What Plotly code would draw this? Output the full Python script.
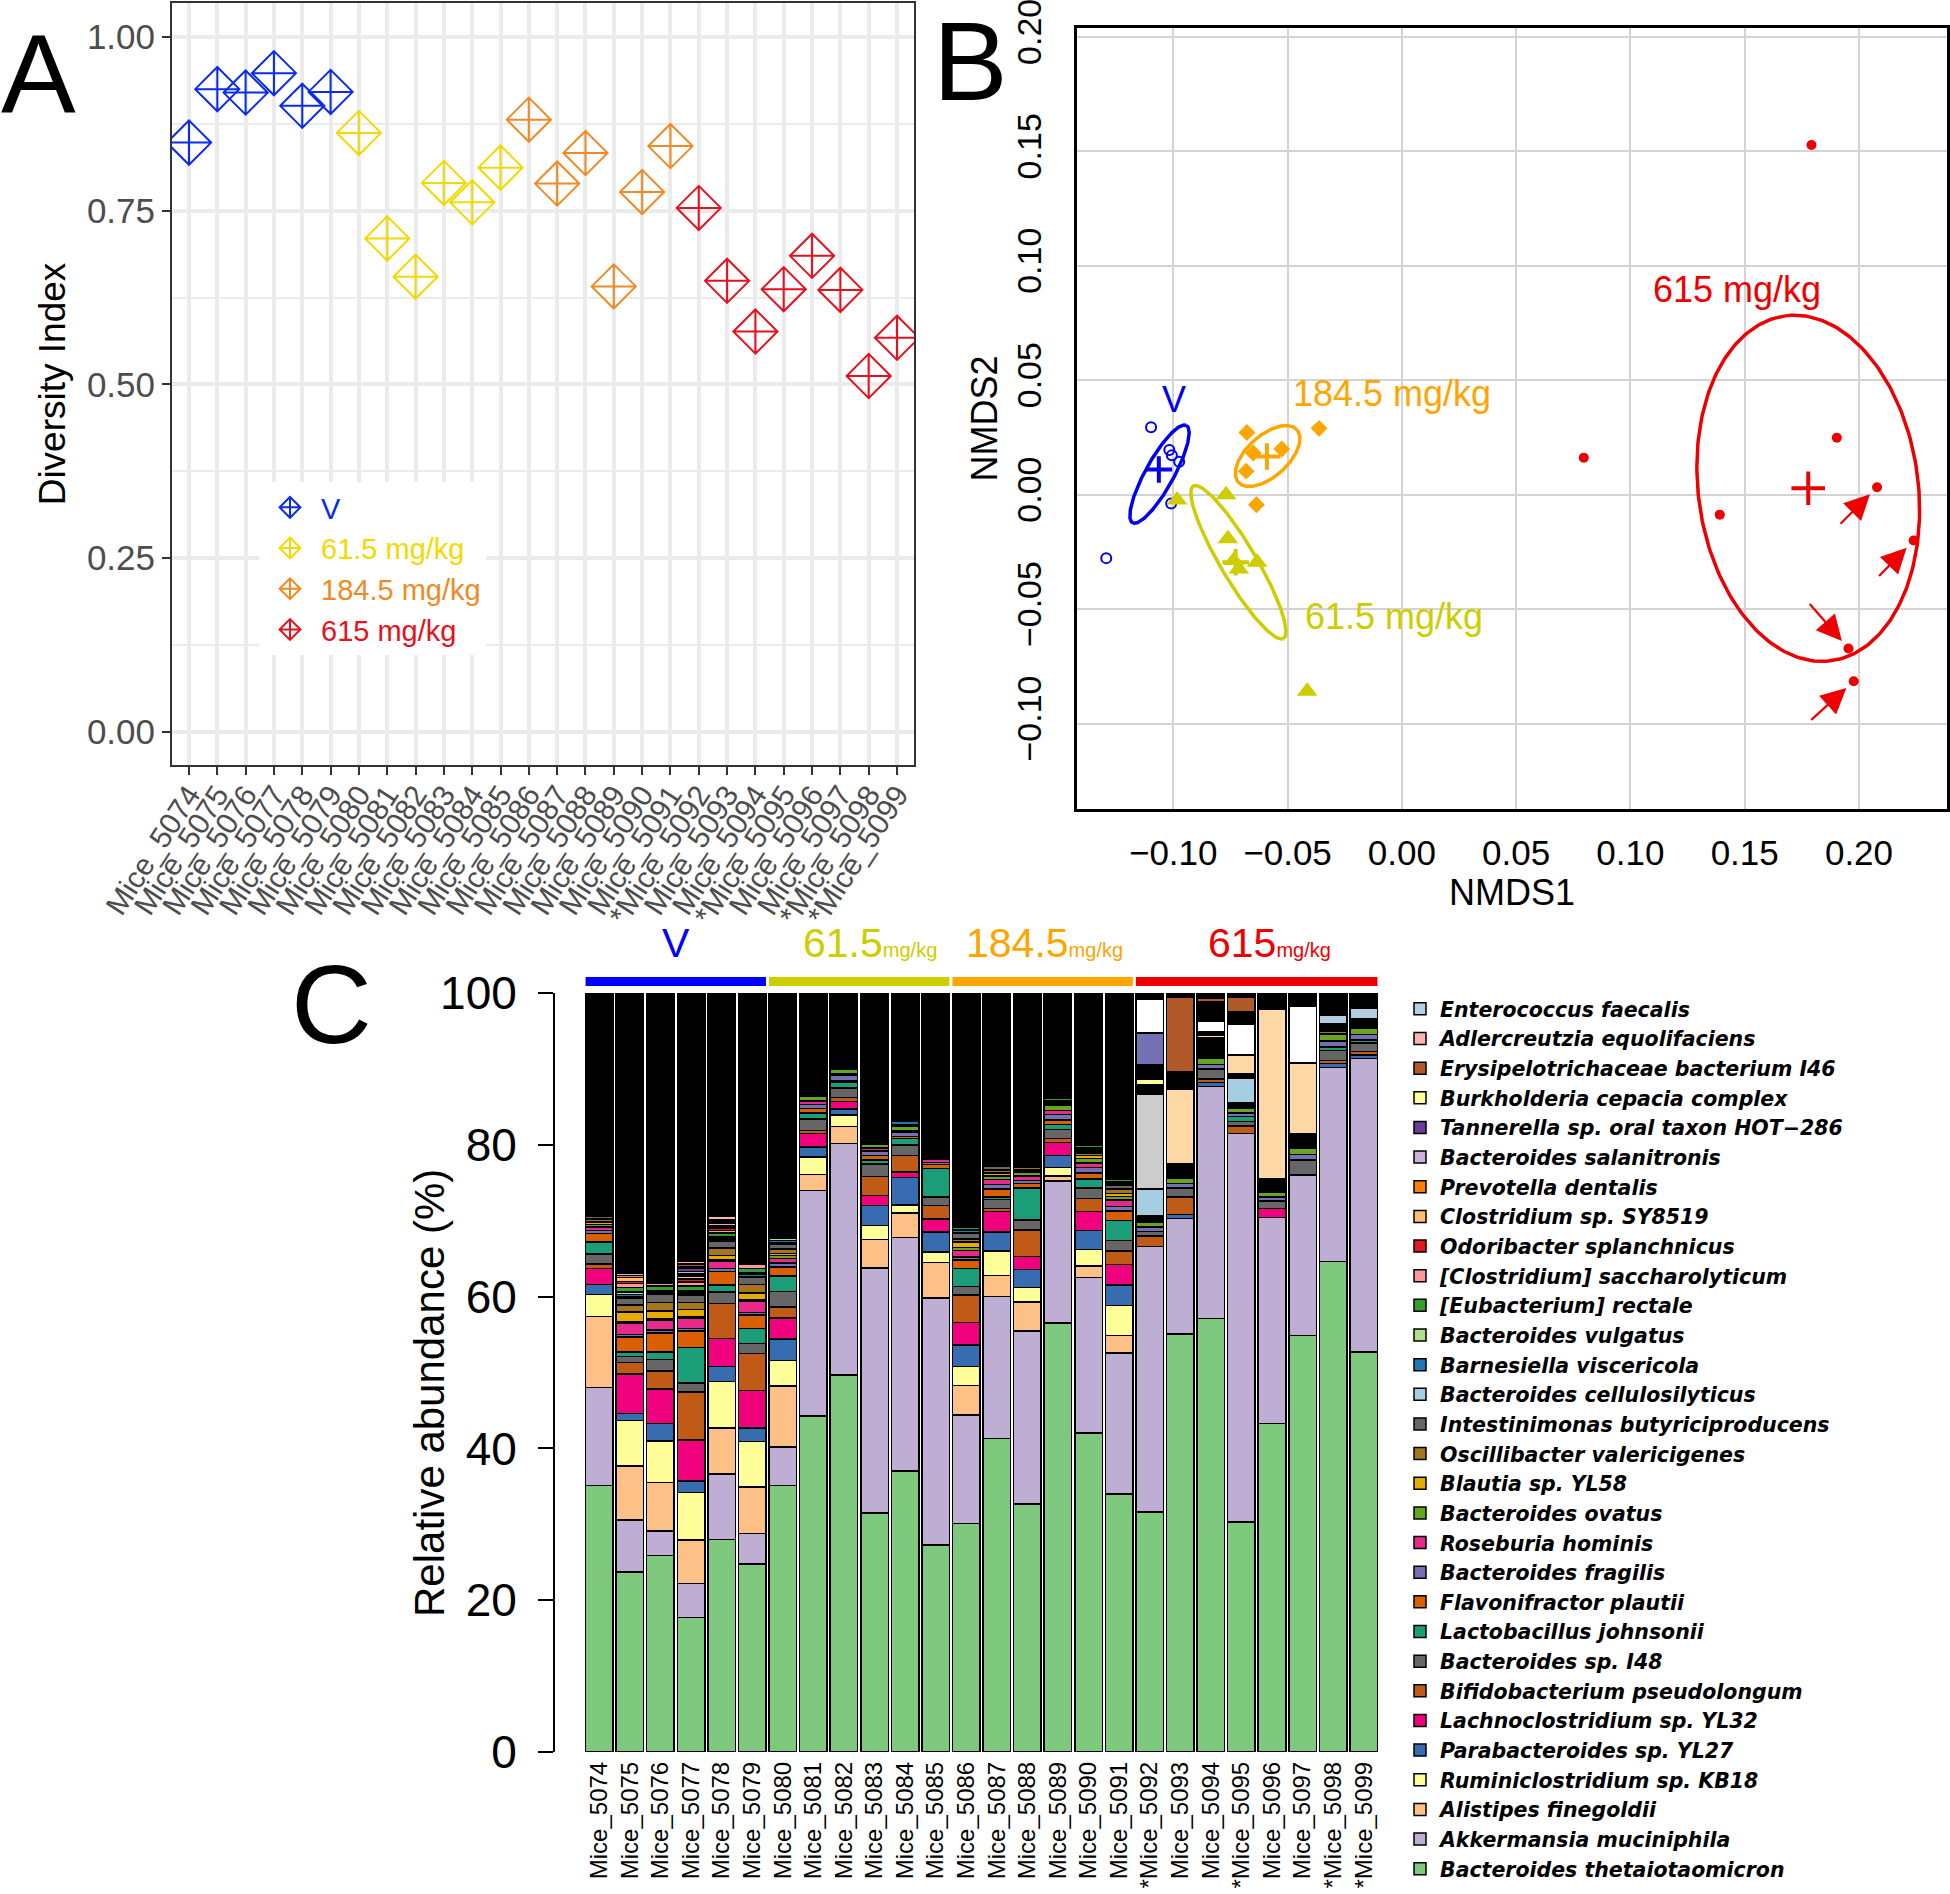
import numpy as np
import plotly.graph_objects as go

# ---------------- data ----------------
samples = ["Mice_5074", "Mice_5075", "Mice_5076", "Mice_5077", "Mice_5078", "Mice_5079",
           "Mice_5080", "Mice_5081", "Mice_5082", "Mice_5083", "Mice_5084", "Mice_5085",
           "Mice_5086", "Mice_5087", "Mice_5088", "Mice_5089", "Mice_5090", "Mice_5091",
           "*Mice_5092", "Mice_5093", "Mice_5094", "*Mice_5095", "Mice_5096", "Mice_5097",
           "*Mice_5098", "*Mice_5099"]

diversity = [0.848, 0.925, 0.920, 0.948, 0.901, 0.921, 0.862, 0.710, 0.655, 0.790, 0.762, 0.812,
             0.881, 0.789, 0.833, 0.641, 0.777, 0.843, 0.754, 0.649, 0.576, 0.637, 0.685, 0.636,
             0.512, 0.567]

group_names = ["V", "61.5 mg/kg", "184.5 mg/kg", "615 mg/kg"]
group_sizes = [6, 6, 6, 8]
colors_a = ["#0A2BF0", "#F2DA00", "#F08A24", "#E8101C"]
colors_grp = ["#0000EE", "#CDCD00", "#FFA500", "#EE0000"]

# NMDS points
v_x = [-0.1097, -0.1017, -0.1006, -0.0974, -0.1009, -0.1293]
v_y = [0.0295, 0.0195, 0.0172, 0.0144, -0.0038, -0.0277]
g61_x = [-0.0983, -0.0769, -0.0761, -0.0735, -0.0713, -0.0633, -0.0414]
g61_y = [-0.0023, 0.0000, -0.0192, -0.0287, -0.0325, -0.0295, -0.0859]
g184_x = [-0.0678, -0.0650, -0.0681, -0.0525, -0.0362, -0.0636]
g184_y = [0.0272, 0.0182, 0.0103, 0.0200, 0.0290, -0.0044]
g615_x = [0.1792, 0.1903, 0.0796, 0.1391, 0.2079, 0.2239, 0.1954, 0.1977]
g615_y = [0.1528, 0.0249, 0.0162, -0.0087, 0.0033, -0.0200, -0.0672, -0.0815]
centroid_x = [-0.1063, -0.0727, -0.0590, 0.1778]
centroid_y = [0.0110, -0.0295, 0.0167, 0.0028]
ell_cx = [-0.1060, -0.0715, -0.0587, 0.1778]
ell_cy = [0.0090, -0.0295, 0.0169, 0.0028]
ell_a = [0.0243, 0.0387, 0.0172, 0.0760]
ell_b = [0.0062, 0.0078, 0.0090, 0.0481]
ell_angle = [61.0, -59.4, 42.0, 97.6]
arrow_points = [4, 5, 6, 7]

# Relative abundance (%) per species, samples in order above
th = [35.1, 23.7, 25.9, 17.7, 28.0, 24.8, 35.1, 44.3, 49.7, 31.5, 37.0, 27.3, 30.1, 41.3, 32.7, 56.5, 42.0, 34.0, 31.6, 55.1, 57.1, 30.3, 43.3, 54.9, 64.6, 52.7]
ak = [12.9, 6.9, 3.2, 4.5, 8.6, 4.0, 5.1, 29.7, 30.5, 32.3, 30.8, 32.5, 14.3, 18.7, 22.8, 18.7, 20.5, 18.6, 35.0, 15.2, 30.6, 51.2, 27.1, 21.1, 25.6, 38.7]
af = [9.4, 7.1, 6.4, 5.7, 6.1, 6.1, 8.0, 2.1, 2.2, 3.7, 3.2, 4.7, 3.9, 2.8, 3.8, 0.7, 1.5, 2.3, 0, 0, 0, 0, 0, 0, 0, 0]
ru = [2.9, 6.0, 5.5, 6.3, 6.1, 6.0, 3.4, 2.3, 1.5, 1.9, 1.1, 1.4, 2.5, 3.2, 1.9, 1.1, 2.2, 3.9, 0, 0, 0, 0, 0, 0, 0, 0]
pa = [1.3, 0.9, 2.3, 1.5, 2.0, 1.8, 2.8, 1.3, 0.8, 2.6, 3.6, 2.6, 2.8, 2.5, 2.4, 1.6, 2.5, 2.7, 0, 0.5, 0.5, 0, 0, 0, 0.5, 0.4]
la = [2.1, 5.2, 4.5, 5.4, 3.7, 4.9, 2.8, 1.8, 1.0, 1.3, 0.7, 1.7, 3.0, 2.7, 1.7, 1.7, 2.5, 2.7, 0, 0, 0, 0, 1.2, 0, 0, 0]
bi = [0.6, 1.5, 2.4, 6.3, 4.6, 4.9, 1.4, 0.4, 0.5, 2.5, 2.2, 1.8, 3.6, 0.4, 3.5, 0.5, 1.7, 1.8, 1.4, 2.3, 0.5, 1.0, 0, 0, 0.4, 0.5]
bs = [1.3, 0.8, 1.5, 1.2, 1.5, 1.3, 2.1, 1.5, 1.3, 1.7, 1.4, 1.1, 1.1, 1.2, 1.3, 1.2, 1.4, 1.4, 0.6, 1.2, 1.3, 0.6, 1.0, 2.0, 1.3, 1.1]
lj = [1.6, 0.6, 1.0, 4.7, 0.9, 2.0, 2.0, 0.8, 0.8, 0.5, 0.8, 3.8, 2.4, 0.3, 4.2, 0.7, 1.2, 2.6, 0, 0, 0, 0.6, 0, 0, 0.5, 0.4]
fp = [1.1, 2.0, 2.5, 2.2, 1.8, 1.8, 1.2, 0.6, 0.2, 0.6, 0.3, 0.5, 1.1, 1.1, 0.6, 0.6, 0.8, 1.3, 0, 0, 0, 0, 0, 0, 0, 0]
bf = [0.4, 0.3, 0.4, 0.3, 0.4, 0.3, 0.5, 0.5, 0.6, 0.6, 0.6, 0.3, 0.4, 0.6, 0.4, 0.7, 0.7, 0.6, 0.6, 0.6, 0.6, 0.5, 0.5, 0.7, 0.8, 0.7]
rh = [0.5, 1.5, 1.3, 1.4, 0.9, 1.5, 0.6, 0.5, 0.2, 0.4, 0.2, 0.4, 0.9, 0.6, 0.6, 0.5, 0.6, 0.8, 0, 0, 0, 0, 0, 0, 0, 0]
bo = [0.3, 0.2, 0.2, 0.2, 0.2, 0.2, 0.4, 0.6, 0.6, 0.5, 0.5, 0.3, 0.4, 0.5, 0.5, 0.7, 0.6, 0.5, 0.6, 0.7, 0.8, 0.6, 0.7, 0.8, 0.9, 0.8]
bl = [0.3, 1.3, 1.0, 0.9, 0.6, 0.9, 0.3, 0, 0, 0.1, 0, 0.1, 0.7, 0.4, 0.3, 0.2, 0.4, 0.4, 0, 0, 0, 0, 0, 0, 0, 0]
ov = [0.4, 0.9, 1.1, 0.9, 1.0, 1.1, 0.6, 0, 0, 0.1, 0, 0, 0.4, 0.4, 0.3, 0.2, 0.3, 0.6, 0, 0, 0, 0, 0, 0, 0.4, 0]
ib = [0.4, 0.9, 1.1, 1.0, 0.9, 0.9, 0.6, 0, 0, 0.1, 0, 0, 0.7, 0.5, 0, 0.2, 0.3, 0.5, 0, 0, 0, 0, 0, 0, 0, 0]
oth1 = [0, 0, 0, 0, 0, 0, 0, 0, 0, 0, 0, 0, 0, 0, 0, 0, 0, 0, 0.9, 1.9, 2.7, 0.7, 1.7, 2.0, 1.0, 1.3]
bc = [0, 0.2, 0.1, 0.2, 0.2, 0.1, 0.2, 0.1, 0, 0, 0.2, 0, 0.1, 0, 0, 0, 0, 0.1, 3.5, 0, 0, 3.3, 0, 0, 0, 0]
unk_gray = [0, 0, 0, 0, 0, 0, 0, 0, 0, 0, 0, 0, 0, 0, 0, 0, 0, 0, 12.4, 0, 0, 0, 0, 0, 0, 0]
bv2 = [0.1, 0.3, 0.2, 0.2, 0.2, 0.3, 0.3, 0.1, 0.1, 0, 0.5, 0, 0.3, 0.1, 0, 0, 0.2, 0.2, 0, 0, 0, 0, 0, 0, 0, 0]
bvu = [0, 0.3, 0.2, 0.2, 0.2, 0.2, 0.3, 0, 0, 0, 0, 0, 0.1, 0, 0, 0, 0.2, 0.1, 0, 0, 0, 0, 0, 0, 0, 0]
er = [0.2, 0.6, 0.6, 0.6, 0.5, 0.6, 0.2, 0.1, 0.1, 0.1, 0.1, 0.1, 0.3, 0.1, 0.1, 0.3, 0.3, 0.3, 0, 0, 0, 0, 0, 0, 0, 0]
cs = [0.1, 0.5, 0.4, 0.5, 0.3, 0.6, 0.2, 0, 0, 0, 0, 0, 0.2, 0.1, 0.1, 0.2, 0.2, 0.2, 0, 0, 0, 0, 0, 0, 0, 0]
osp = [0.1, 0.3, 0.1, 0.4, 0.3, 0.2, 0.2, 0, 0, 0, 0, 0, 0.1, 0, 0, 0, 0.1, 0.1, 0, 0, 0, 0, 0, 0, 0, 0]
cy = [0, 0.5, 0.3, 0.4, 0.2, 0.2, 0.2, 0, 0, 0, 0, 0, 0.1, 0, 0, 0, 0.2, 0.2, 0, 0, 0, 0, 0, 0, 0, 0]
pdn = [0, 0.3, 0.2, 0.3, 0.2, 0.1, 0.2, 0, 0, 0, 0, 0, 0.1, 0, 0, 0, 0.1, 0.1, 0, 0, 0, 0, 0, 0, 0, 0]
bsa = [0.1, 0.3, 0.1, 0.3, 0.2, 0.1, 0.1, 0, 0, 0, 0, 0, 0.1, 0, 0, 0.2, 0.1, 0.1, 0, 0, 0, 0, 0, 0, 0, 0]
ta = [0.1, 0.3, 0.1, 0.4, 0.2, 0.1, 0.2, 0, 0, 0, 0, 0, 0.1, 0, 0, 0.2, 0.1, 0.1, 0, 0, 0, 0, 0, 0, 0, 0]
oth2 = [0, 0, 0, 0, 0, 0, 0, 0, 0, 0, 0, 0, 0, 0, 0, 0, 0, 0, 1.3, 0, 0, 0, 0, 0, 0, 0]
bu = [0, 0.1, 0.1, 0.2, 0.1, 0, 0.1, 0, 0, 0, 0, 0, 0, 0, 0, 0, 0, 0, 0.8, 0, 0, 0, 0, 0, 0, 0]
oth3 = [0, 0, 0, 0, 0, 0, 0, 0, 0, 0, 0, 0, 0, 0, 0, 0, 0, 0, 1.8, 0, 0, 0.6, 0, 0, 0, 0]
unk_purple = [0, 0, 0, 0, 0, 0, 0, 0, 0, 0, 0, 0, 0, 0, 0, 0, 0, 0, 4.2, 0, 0, 0, 0, 0, 0, 0]
unk_peach = [0, 0, 0, 0, 0, 0, 0, 0, 0, 0, 0, 0, 0, 0, 0, 0, 0, 0, 0, 9.8, 0.4, 2.4, 22.3, 9.3, 0, 0]
oth4 = [0, 0, 0, 0, 0, 0, 0, 0, 0, 0, 0, 0, 0, 0, 0, 0, 0, 0, 0, 2.3, 0.4, 0, 0, 0, 0, 0]
unk_white = [0, 0, 0, 0, 0, 0, 0, 0, 0, 0, 0, 0, 0, 0, 0, 0, 0, 0, 4.5, 0, 1.4, 4.1, 0, 7.4, 0, 0]
oth5 = [0, 0, 0, 0, 0, 0, 0, 0, 0, 0, 0, 0, 0, 0, 0, 0, 0, 0, 0, 0, 2.6, 1.6, 0, 0, 0, 0]
eb = [0, 0.2, 0.1, 0.4, 0.2, 0.1, 0.1, 0, 0, 0, 0, 0, 0.1, 0, 0, 0.2, 0.1, 0.1, 0, 9.8, 0.4, 2.0, 0, 0, 0, 0]
ae = [0.1, 0.2, 0.1, 0.3, 0.5, 0.1, 0.1, 0, 0, 0, 0, 0, 0.1, 0, 0, 0, 0.1, 0.1, 0, 0, 0, 0, 0, 0, 0, 0]
ef = [0, 0.1, 0, 0.2, 0.1, 0, 0.1, 0, 0, 0, 0, 0, 0, 0, 0, 0, 0, 0, 0, 0, 0, 0, 0, 0, 1.1, 1.4]
oth_top = [28.6, 36.0, 37.1, 35.2, 29.3, 34.8, 30.6, 13.3, 9.9, 19.5, 16.8, 21.4, 30.0, 22.5, 22.8, 13.1, 19.1, 23.6, 0.8, 0.6, 0.7, 0.5, 2.2, 1.8, 2.9, 2.0]

# stacking order bottom -> top : (name, colour, values, in legend)
stack = [
    ("Bacteroides thetaiotaomicron", "#7FC97F", th, True),
    ("Akkermansia muciniphila", "#BEAED4", ak, True),
    ("Alistipes finegoldii", "#FDC086", af, True),
    ("Ruminiclostridium sp. KB18", "#FFFF99", ru, True),
    ("Parabacteroides sp. YL27", "#386CB0", pa, True),
    ("Lachnoclostridium sp. YL32", "#F0027F", la, True),
    ("Bifidobacterium pseudolongum", "#BF5B17", bi, True),
    ("Bacteroides sp. I48", "#666666", bs, True),
    ("Lactobacillus johnsonii", "#1B9E77", lj, True),
    ("Flavonifractor plautii", "#D95F02", fp, True),
    ("Bacteroides fragilis", "#7570B3", bf, True),
    ("Roseburia hominis", "#E7298A", rh, True),
    ("Bacteroides ovatus", "#66A61E", bo, True),
    ("Blautia sp. YL58", "#E6AB02", bl, True),
    ("Oscillibacter valericigenes", "#A6761D", ov, True),
    ("Intestinimonas butyriciproducens", "#666666", ib, True),
    ("Other taxa", "#000000", oth1, False),
    ("Bacteroides cellulosilyticus", "#A6CEE3", bc, True),
    ("Unlisted taxon a", "#CCCCCC", unk_gray, False),
    ("Barnesiella viscericola", "#1F78B4", bv2, True),
    ("Bacteroides vulgatus", "#B2DF8A", bvu, True),
    ("[Eubacterium] rectale", "#33A02C", er, True),
    ("[Clostridium] saccharolyticum", "#FB9A99", cs, True),
    ("Odoribacter splanchnicus", "#E31A1C", osp, True),
    ("Clostridium sp. SY8519", "#FDBF6F", cy, True),
    ("Prevotella dentalis", "#FF7F00", pdn, True),
    ("Bacteroides salanitronis", "#CAB2D6", bsa, True),
    ("Tannerella sp. oral taxon HOT\u2212286", "#6A3D9A", ta, True),
    ("Other taxa", "#000000", oth2, False),
    ("Burkholderia cepacia complex", "#FFFF99", bu, True),
    ("Other taxa", "#000000", oth3, False),
    ("Unlisted taxon b", "#7570B3", unk_purple, False),
    ("Unlisted taxon c", "#FED9A6", unk_peach, False),
    ("Other taxa", "#000000", oth4, False),
    ("Unlisted taxon d", "#FFFFFF", unk_white, False),
    ("Other taxa", "#000000", oth5, False),
    ("Erysipelotrichaceae bacterium I46", "#B15928", eb, True),
    ("Adlercreutzia equolifaciens", "#FBB4AE", ae, True),
    ("Enterococcus faecalis", "#B3CDE3", ef, True),
    ("Other taxa", "#000000", oth_top, False),
]

FONT = "Liberation Sans, Arial, Helvetica, sans-serif"
W, H = 1950, 1894


def px(xp):
    return min(max(xp / W, 0.0), 1.0)


def py(yp):
    return min(max(1 - yp / H, 0.0), 1.0)


fig = go.Figure()

# ---------------- Panel A ----------------
start = 0
for g in range(4):
    n = group_sizes[g]
    fig.add_trace(go.Scatter(
        x=samples[start:start + n], y=diversity[start:start + n], mode="markers",
        name="<span style='color:%s'>%s</span>" % (colors_a[g], group_names[g]),
        marker=dict(symbol="diamond-cross-open", size=34, color=colors_a[g],
                    line=dict(width=2, color=colors_a[g])),
        xaxis="x", yaxis="y", legend="legend", hoverinfo="skip"))
    start += n

# ---------------- Panel B ----------------
pts = [(v_x, v_y), (g61_x, g61_y), (g184_x, g184_y), (g615_x, g615_y)]
symbols = ["circle-open", "triangle-up", "diamond", "circle"]
sizes = [10, 18, 13, 10]
t = np.linspace(0, 2 * np.pi, 241)
for g in range(4):
    ang = np.deg2rad(ell_angle[g])
    ex = ell_cx[g] + ell_a[g] * np.cos(t) * np.cos(ang) - ell_b[g] * np.sin(t) * np.sin(ang)
    ey = ell_cy[g] + ell_a[g] * np.cos(t) * np.sin(ang) + ell_b[g] * np.sin(t) * np.cos(ang)
    fig.add_trace(go.Scatter(x=ex, y=ey, mode="lines", line=dict(color=colors_grp[g], width=3.5),
                             xaxis="x2", yaxis="y2", showlegend=False, hoverinfo="skip"))
for g in range(4):
    fig.add_trace(go.Scatter(x=pts[g][0], y=pts[g][1], mode="markers",
                             marker=dict(symbol=symbols[g], size=sizes[g], color=colors_grp[g],
                                         line=dict(width=2 if g == 0 else 0, color=colors_grp[g])),
                             xaxis="x2", yaxis="y2", showlegend=False, hoverinfo="skip"))
for g in range(4):
    fig.add_trace(go.Scatter(x=[centroid_x[g]], y=[centroid_y[g]], mode="markers",
                             marker=dict(symbol="cross-thin-open", size=24 if g == 3 else 19,
                                         color=colors_grp[g],
                                         line=dict(width=4, color=colors_grp[g])),
                             xaxis="x2", yaxis="y2", showlegend=False, hoverinfo="skip"))

# ---------------- Panel C ----------------
for name, col, vals, show in stack:
    fig.add_trace(go.Bar(x=samples, y=vals, name=name, showlegend=show,
                         marker=dict(color=col, line=dict(color="black", width=1.5)),
                         xaxis="x3", yaxis="y3", legend="legend2", hoverinfo="skip"))

# ---------------- layout ----------------
grey_txt = "#4D4D4D"
layout = dict(
    width=W, height=H, margin=dict(l=0, r=0, t=0, b=0, autoexpand=False),
    paper_bgcolor="white", plot_bgcolor="white",
    font=dict(family=FONT, color="black"),
    barmode="stack", bargap=0.1,
    xaxis=dict(domain=[px(172), px(914)], anchor="y", type="category", automargin=False,
               categoryorder="array", categoryarray=samples, range=[-0.6, 25.6],
               tickmode="array", tickvals=samples, ticktext=samples,
               showgrid=True, gridcolor="#EBEBEB", gridwidth=4,
               ticks="outside", ticklen=8, tickwidth=2, tickcolor="#333333",
               tickangle=-57, ticklabelstandoff=-10,
               tickfont=dict(size=30, color=grey_txt, family=FONT),
               showline=True, mirror=True, linecolor="#333333", linewidth=2, zeroline=False),
    yaxis=dict(domain=[py(765), py(3)], anchor="x", range=[-0.048, 1.049], automargin=False,
               tickvals=[0, 0.25, 0.5, 0.75, 1.0], ticktext=["0.00", "0.25", "0.50", "0.75", "1.00"],
               showgrid=True, gridcolor="#EBEBEB", gridwidth=3.5,
               minor=dict(tickvals=[0.125, 0.375, 0.625, 0.875], showgrid=True,
                          gridcolor="#EBEBEB", gridwidth=1.5),
               ticks="outside", ticklen=8, tickwidth=2, tickcolor="#333333",
               tickfont=dict(size=35, color=grey_txt, family=FONT),
               title=dict(text="Diversity Index", font=dict(size=37, color="black"), standoff=10),
               showline=True, mirror=True, linecolor="#333333", linewidth=2, zeroline=False),
    xaxis2=dict(domain=[px(1077), px(1947)], anchor="y2", range=[-0.1421, 0.2385], automargin=False,
                tick0=0, dtick=0.05, tickformat=".2f", ticklabeloverflow="allow",
                showgrid=True, gridcolor="#D3D3D3", gridwidth=2, ticks="",
                ticklabelstandoff=11, tickfont=dict(size=35, color="black", family=FONT),
                title=dict(text="NMDS1", font=dict(size=36), standoff=4),
                showline=True, mirror=True, linecolor="black", linewidth=2.5, zeroline=False),
    yaxis2=dict(domain=[py(809), py(28)], anchor="x2", range=[-0.1373, 0.2039], automargin=False,
                tick0=0, dtick=0.05, tickformat=".2f", tickangle=-90, ticklabeloverflow="allow",
                showgrid=True, gridcolor="#D3D3D3", gridwidth=2, ticks="",
                ticklabelstandoff=20, tickfont=dict(size=34, color="black", family=FONT),
                title=dict(text="NMDS2", font=dict(size=36), standoff=2),
                showline=True, mirror=True, linecolor="black", linewidth=2.5, zeroline=False),
    xaxis3=dict(domain=[px(555), px(1379)], anchor="y3", type="category", automargin=False,
                categoryorder="array", categoryarray=samples, range=[-1.45, 25.5],
                tickmode="array", tickvals=samples, ticktext=samples,
                showgrid=False, showline=False, ticks="", zeroline=False,
                tickangle=-90, ticklabelstandoff=4,
                tickfont=dict(size=24, color="black", family=FONT)),
    yaxis3=dict(domain=[py(1752), py(993)], anchor="x3", range=[0, 100], automargin=False,
                tickvals=[0, 20, 40, 60, 80, 100], showgrid=False, zeroline=False,
                showline=True, linecolor="black", linewidth=2,
                ticks="outside", ticklen=15, tickwidth=2, tickcolor="black",
                ticklabelstandoff=12, tickfont=dict(size=46, color="black", family=FONT)),
    legend=dict(x=px(259), y=py(482), xanchor="left", yanchor="top",
                bgcolor="white", borderwidth=0, traceorder="normal",
                font=dict(size=29, family=FONT), itemwidth=52,
                tracegroupgap=0),
    legend2=dict(x=px(1400), y=py(989), xanchor="left", yanchor="top",
                 bgcolor="rgba(0,0,0,0)", traceorder="reversed",
                 font=dict(size=20.5, family="DejaVu Sans", weight="bold", style="italic",
                           color="black"),
                 itemwidth=30, tracegroupgap=0),
)
fig.update_layout(**layout)

# panel letters
ann = []
for letter, xx, yy in [("A", 38, 73), ("B", 970, 62), ("C", 331, 1005)]:
    ann.append(dict(text=letter, x=px(xx), y=py(yy), xref="paper", yref="paper",
                    showarrow=False, xanchor="center", yanchor="middle",
                    font=dict(size=112, family=FONT, color="black")))

ann.append(dict(text="Relative abundance (%)", x=px(429), y=py(1393), xref="paper", yref="paper",
                textangle=-90, showarrow=False, xanchor="center", yanchor="middle",
                font=dict(size=42, family=FONT, color="black")))

# group headers for panel C
header_text = ["V", "61.5<span style='font-size:20px'>mg/kg</span>",
               "184.5<span style='font-size:20px'>mg/kg</span>",
               "615<span style='font-size:20px'>mg/kg</span>"]
header_shift = [0, 11, 2, 13]
shapes = []
start = 0
for g in range(4):
    n = group_sizes[g]
    x0 = start - 0.45
    x1 = start + n - 1 + 0.45
    shapes.append(dict(type="rect", xref="x3", yref="paper", x0=x0, x1=x1,
                       y0=py(986), y1=py(977), fillcolor=colors_grp[g] if g else "#0000FF",
                       line=dict(width=0), layer="above"))
    ann.append(dict(text=header_text[g], x=(x0 + x1) / 2, y=py(943), xref="x3", yref="paper",
                    showarrow=False, xanchor="center", yanchor="middle", xshift=header_shift[g],
                    font=dict(size=41, family=FONT, color=colors_grp[g] if g else "#0000FF")))
    start += n

# NMDS group labels
lab_x = [-0.0997, -0.0035, -0.0044, 0.1465]
lab_y = [0.0418, -0.0531, 0.0444, 0.0897]
for g in range(4):
    ann.append(dict(text=group_names[g], x=lab_x[g], y=lab_y[g], xref="x2", yref="y2",
                    showarrow=False, xanchor="center", yanchor="middle",
                    font=dict(size=36, family=FONT, color=colors_grp[g])))

# arrows pointing to selected 615 mg/kg samples
arrow_off = [(-38, 38), (-36, 37), (-40, -46), (-44, 40)]
for k, i in enumerate(arrow_points):
    ann.append(dict(x=g615_x[i], y=g615_y[i], xref="x2", yref="y2", text="",
                    showarrow=True, ax=arrow_off[k][0], ay=arrow_off[k][1],
                    arrowhead=2, arrowsize=2.3, arrowwidth=2.2, arrowcolor=colors_grp[3],
                    standoff=10))

fig.update_layout(annotations=ann, shapes=shapes)
fig.write_html("out.html",
               config={"displayModeBar": False},
               post_script="document.body.style.margin='0px';"
                           "document.documentElement.style.margin='0px';")
